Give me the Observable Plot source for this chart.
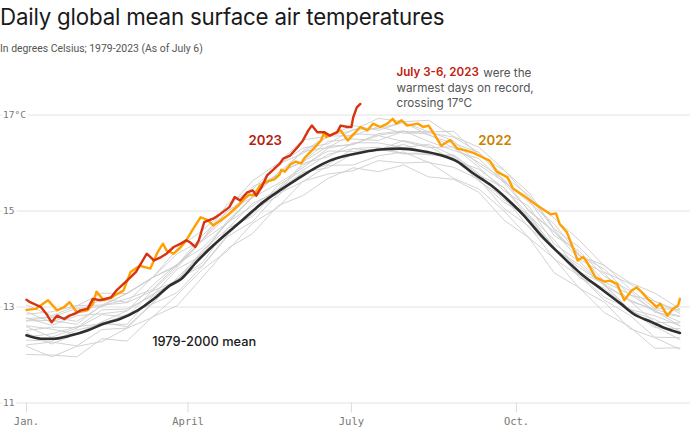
<!DOCTYPE html>
<html><head><meta charset="utf-8">
<script src="https://cdn.jsdelivr.net/npm/d3@7"></script>
<script src="https://cdn.jsdelivr.net/npm/@observablehq/plot@0.6"></script>
<style>
body{margin:0;background:#fff;width:690px;height:430px;overflow:hidden;font-family:Inter,sans-serif;}
#title{font-size:22.3px;line-height:34px;height:34px;color:#1a1a1a;white-space:nowrap;letter-spacing:-0.2px;}
#subtitle{font-family:Roboto,sans-serif;font-size:10.4px;line-height:18px;height:18px;margin-top:6px;color:#555;white-space:nowrap;}
#chart svg{display:block;}
</style></head><body>
<div id="title">Daily global mean surface air temperatures</div>
<div id="subtitle">In degrees Celsius; 1979-2023 (As of July 6)</div>
<div id="chart"></div>
<script>
// ---- axis ticks ----
const yTicks = [11, 13, 15, 17];
const yTickLabels = ["11", "13", "15", "17°C"];
const xTicks = [1, 91, 182, 274];
const xTickLabels = ["Jan.", "April", "July", "Oct."];

// ---- 1979-2000 mean ----
const meanDays = [1,9,16,26,35,44,53,63,72,81,87,96,105,115,124,133,143,152,161,170,180,189,198,209,221,232,241,250,260,269,278,287,299,310,321,332,339,349,358,365];
const meanTemps = [12.41,12.34,12.34,12.41,12.51,12.65,12.75,12.93,13.17,13.45,13.58,13.95,14.28,14.61,14.90,15.19,15.45,15.67,15.88,16.05,16.16,16.23,16.28,16.30,16.25,16.16,16.03,15.78,15.53,15.24,14.91,14.52,14.07,13.69,13.38,13.07,12.86,12.69,12.54,12.46];

// ---- 2022 ----
const days2022 = [1,6,13,18,22,25,29,35,38,40,44,48,51,55,59,64,70,74,77,79,83,87,90,94,98,102,105,109,113,116,119,122,125,128,131,135,139,142,143,145,148,151,154,156,161,165,167,168,172,176,180,183,187,191,194,198,202,205,207,210,213,219,222,225,228,232,237,241,246,250,255,259,263,269,272,278,283,287,293,296,298,302,306,308,311,313,318,323,326,330,334,338,341,344,347,350,352,354,358,361,364,365];
const temps2022 = [12.94,12.96,13.14,12.93,13.00,13.10,12.89,12.93,13.07,13.32,13.14,13.19,13.26,13.34,13.73,13.86,13.80,14.14,14.32,14.18,14.11,14.25,14.39,14.64,14.87,14.81,14.70,14.80,14.91,15.01,15.11,15.24,15.34,15.33,15.53,15.61,15.66,15.76,15.86,15.82,15.97,16.03,15.99,16.11,16.30,16.47,16.64,16.54,16.61,16.68,16.47,16.59,16.75,16.68,16.82,16.75,16.82,16.92,16.82,16.89,16.78,16.82,16.75,16.78,16.61,16.36,16.48,16.30,16.26,16.21,16.12,16.05,15.82,15.70,15.47,15.32,15.18,15.08,14.93,14.95,14.73,14.56,14.18,13.97,14.04,13.95,13.62,13.53,13.55,13.48,13.14,13.34,13.41,13.30,13.17,13.07,13.00,13.07,12.82,12.96,13.03,13.17];

// ---- 2023 (to July 6) ----
const days2023 = [1,3,9,12,15,18,22,25,28,31,35,38,42,48,51,57,62,68,72,76,79,83,87,90,92,95,97,100,102,105,109,114,117,120,124,127,129,132,135,139,142,144,148,152,155,158,160,163,167,170,174,176,180,182,183,185,187];
const temps2023 = [13.15,13.10,13.00,12.86,12.68,12.82,12.75,12.82,12.86,12.93,12.96,13.17,13.14,13.20,13.34,13.55,13.73,14.11,13.97,14.04,14.11,14.25,14.32,14.39,14.35,14.25,14.39,14.77,14.80,14.84,14.94,15.08,15.29,15.22,15.39,15.43,15.32,15.50,15.74,15.88,15.98,16.09,16.16,16.33,16.47,16.68,16.78,16.64,16.64,16.57,16.64,16.78,16.75,16.75,16.95,17.16,17.23];

// ---- other years 1979-2021 (sampled every 14 days) ----
const grayDays = [1,15,29,43,57,71,85,99,113,127,141,155,169,183,197,211,225,239,253,267,281,295,309,323,337,351,365];
const grayA = [12.18,11.96,12.18,12.28,12.56,12.78,13.25,13.78,14.17,14.75,15.07,15.62,15.77,15.84,16.05,16.00,16.02,15.68,15.46,15.00,14.44,14.01,13.39,13.10,12.55,12.36,12.12];
const grayB = [12.21,12.27,12.19,12.53,12.56,13.06,13.30,13.85,14.47,14.78,15.36,15.61,15.95,15.96,16.15,16.23,16.01,15.91,15.66,15.05,14.68,14.00,13.65,13.14,12.83,12.37,12.36];
const grayC = [12.46,12.23,12.44,12.68,12.59,13.08,13.58,13.86,14.50,15.02,15.31,15.81,15.90,16.19,16.29,16.19,16.18,16.11,15.62,15.29,14.65,14.21,13.66,13.20,12.97,12.60,12.32];
const grayD = [12.38,12.44,12.59,12.65,12.85,13.06,13.61,14.12,14.55,14.94,15.53,15.85,16.18,16.30,16.25,16.39,16.17,16.17,15.78,15.23,14.92,14.23,13.82,13.47,12.92,12.74,12.50];
const grayE = [12.59,12.37,12.56,12.84,12.80,13.33,13.55,14.14,14.76,15.11,15.45,15.99,16.13,16.42,16.42,16.32,16.39,16.15,15.75,15.49,14.91,14.40,13.73,13.48,13.13,12.68,12.67];
const grayF = [12.51,12.58,12.57,12.94,12.96,13.23,13.79,14.08,14.80,15.28,15.57,15.90,16.31,16.40,16.57,16.45,16.32,16.34,15.91,15.42,15.09,14.31,13.95,13.44,13.15,12.92,12.61];
const grayG = [12.77,12.62,12.82,12.86,12.92,13.44,13.90,14.23,14.75,15.31,15.79,16.02,16.35,16.38,16.61,16.67,16.45,16.26,16.09,15.59,15.01,14.57,13.99,13.70,13.12,12.95,12.81];
const grayH = [12.72,12.79,12.70,13.02,13.17,13.36,13.88,14.40,15.00,15.29,15.78,16.24,16.32,16.61,16.58,16.65,16.66,16.46,15.96,15.61,15.22,14.49,14.16,13.64,13.34,12.89,12.80];
const grayI = [12.90,12.68,12.90,13.16,13.10,13.61,13.85,14.40,14.90,15.51,15.74,16.25,16.56,16.57,16.76,16.62,16.63,16.54,16.22,15.62,15.18,14.73,14.07,13.79,13.25,13.12,12.91];
const grayJ = [12.85,12.90,13.03,13.04,13.28,13.61,14.11,14.40,15.15,15.45,15.97,16.20,16.55,16.78,16.68,16.85,16.65,16.66,16.16,15.85,15.38,14.63,14.24,13.72,13.49,13.12,12.87];
const grayK = [13.04,12.82,13.02,13.29,13.28,13.60,14.21,14.60,15.05,15.63,15.99,16.48,16.56,16.68,16.93,16.86,16.89,16.55,16.33,15.86,15.27,14.85,14.39,13.85,13.51,13.29,12.96];
const grayL = [12.01,12.00,11.96,12.34,12.29,12.79,13.03,13.62,14.22,14.53,15.11,15.32,15.68,15.90,15.82,15.96,15.71,15.66,15.39,14.81,14.44,13.71,13.40,12.88,12.59,12.14,12.15];
const grayM = [12.61,12.54,12.44,12.69,12.92,13.26,13.55,14.18,14.63,15.16,15.41,15.95,16.25,16.24,16.27,16.47,16.35,16.06,15.87,15.48,14.84,14.21,13.88,13.45,12.95,12.82,12.61];
const grayN = [12.31,12.29,12.52,12.64,12.64,13.21,13.58,13.92,14.64,14.89,15.45,15.80,15.97,16.30,16.33,16.20,16.21,16.14,15.65,15.18,14.88,14.25,13.61,13.39,12.93,12.57,12.55];
const grayO = [12.71,12.72,12.64,13.04,13.09,13.33,13.83,14.38,14.75,15.29,15.79,16.04,16.45,16.50,16.47,16.66,16.60,16.31,16.01,15.66,14.99,14.56,14.11,13.52,13.27,12.92,12.69];
const grayP = [12.76,12.79,12.97,13.01,13.29,13.61,13.88,14.49,15.00,15.36,15.96,16.31,16.40,16.70,16.72,16.85,16.58,16.41,16.22,15.73,15.32,14.61,14.06,13.87,13.38,12.97,12.95];
const grayLines = [grayA,grayB,grayC,grayD,grayE,grayF,grayG,grayH,grayI,grayJ,grayK,grayL,grayM,grayN,grayO,grayP];

// ---- annotations ----
const seriesLabels = ["2023", "2022"];
const seriesLabelDays = [134, 262];
const seriesLabelTemps = [16.47, 16.47];
const meanLabel = "1979-2000 mean";
const meanLabelDay = 71;
const meanLabelTemp = 12.27;
const noteHead = "July 3-6, 2023";
const noteLines = ["were the", "warmest days on record,", "crossing 17°C"];
const noteDays = [255.5, 207.1, 207.1];
const noteTemps = [17.88, 17.56, 17.24];

// ---- build tables ----
const grayRows = [];
grayLines.forEach((vals, k) => vals.forEach((v, j) => grayRows.push({line: k, day: grayDays[j], temp: v})));
const meanRows = meanDays.map((d, i) => ({day: d, temp: meanTemps[i]}));
const rows2022 = days2022.map((d, i) => ({day: d, temp: temps2022[i]}));
const rows2023 = days2023.map((d, i) => ({day: d, temp: temps2023[i]}));
const seriesLabelRows = seriesLabels.map((t, i) => ({text: t, day: seriesLabelDays[i], temp: seriesLabelTemps[i]}));
const noteRows = noteLines.map((t, i) => ({text: t, day: noteDays[i], temp: noteTemps[i]}));

const mono = "'DejaVu Sans Mono', 'Liberation Mono', monospace";

const chart = Plot.plot({
  width: 690,
  height: 372,
  marginTop: 56.5,
  marginBottom: 27.5,
  marginLeft: 26,
  marginRight: 10.6,
  x: {domain: [1, 365]},
  y: {domain: [11, 17], axis: null},
  style: {fontFamily: "Inter, sans-serif", background: "white", overflow: "visible"},
  marks: [
    Plot.ruleY(yTicks, {stroke: "#e2e2e2", strokeWidth: 1, insetLeft: -26, insetRight: -10.6}),
    Plot.text(yTicks, {y: d => d, text: d => yTickLabels[yTicks.indexOf(d)], frameAnchor: "left", textAnchor: "start", dx: -23.5,
      fill: "#777", stroke: "white", strokeWidth: 6, paintOrder: "stroke", fontFamily: mono, fontSize: 9.5}),
    Plot.axisX(xTicks, {tickFormat: d => xTickLabels[xTicks.indexOf(d)], tickSize: 10, tickPadding: 5, stroke: "#dcdcdc",
      fill: "#777", fontFamily: mono, fontSize: 10.5, label: null}),
    Plot.line(grayRows, {x: "day", y: "temp", z: "line", stroke: "#cdcdcd", strokeWidth: 0.9}),
    Plot.line(meanRows, {x: "day", y: "temp", stroke: "#2e2e2e", strokeWidth: 2.6, curve: "monotone-x"}),
    Plot.line(rows2022, {x: "day", y: "temp", stroke: "#ffa000", strokeWidth: 2.4}),
    Plot.line(rows2023, {x: "day", y: "temp", stroke: "#d8330f", strokeWidth: 2.4}),
    Plot.text(seriesLabelRows, {x: "day", y: "temp", text: "text", fill: (d) => d.text === "2023" ? "#b51d0c" : "#c88100",
      fontSize: 13.2, fontWeight: 600, textAnchor: "middle"}),
    Plot.text([meanLabel], {x: () => meanLabelDay, y: () => meanLabelTemp, text: d => d, fill: "#1a1a1a", fontSize: 12.8, fontWeight: 500, textAnchor: "start"}),
    Plot.text([noteHead], {x: () => noteDays[1], y: () => noteTemps[0], text: d => d, fill: "#c0200e", fontSize: 11.6, fontWeight: 600, letterSpacing: "-0.2px", textAnchor: "start"}),
    Plot.text(noteRows, {x: "day", y: "temp", text: "text", fill: "#555", fontSize: 11.7, textAnchor: "start"})
  ]
});
document.getElementById("chart").appendChild(chart);
</script>
</body></html>
